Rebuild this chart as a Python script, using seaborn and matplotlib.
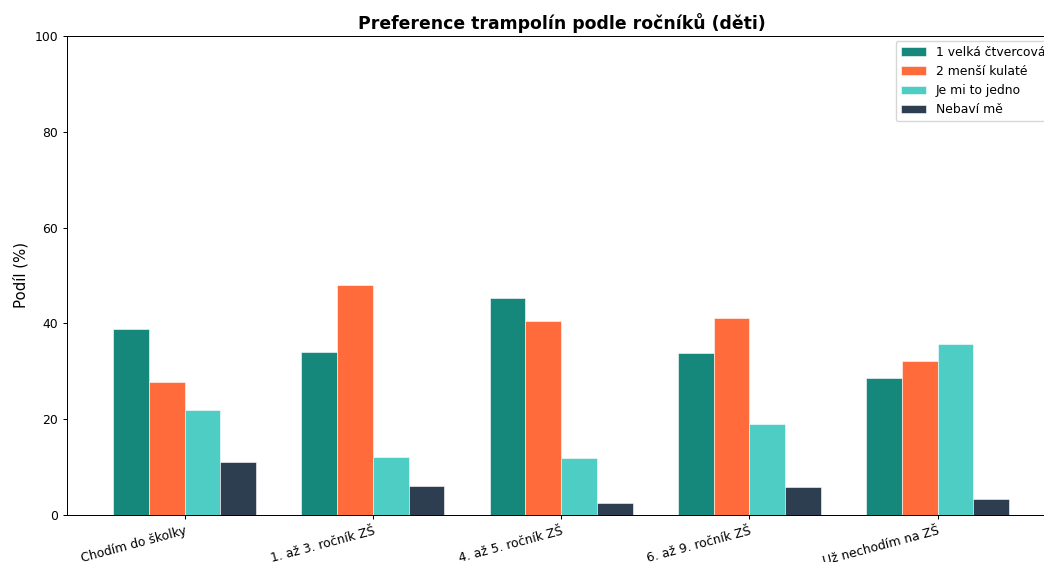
import matplotlib
matplotlib.use("Agg")
import matplotlib.pyplot as plt
import seaborn as sns
import pandas as pd

categories = ["Chodím do školky", "1. až 3. ročník ZŠ", "4. až 5. ročník ZŠ",
              "6. až 9. ročník ZŠ", "Už nechodím na ZŠ"]
series_names = ["1 velká čtvercová", "2 menší kulaté", "Je mi to jedno", "Nebaví mě"]
velka = [38.8, 34.0, 45.3, 33.8, 28.6]
mensi = [27.7, 48.0, 40.5, 41.1, 32.1]
jedno = [22.0, 12.1, 11.9, 19.0, 35.7]
nebavi = [11.1, 6.1, 2.5, 5.8, 3.4]
colors = ["#16877B", "#FF6B3B", "#4ECDC4", "#2C3E50"]

rows = []
for name, vals in zip(series_names, [velka, mensi, jedno, nebavi]):
    for c, v in zip(categories, vals):
        rows.append({"cat": c, "series": name, "val": v})
df = pd.DataFrame(rows)

plt.rcParams['font.family'] = ['DejaVu Sans']
plt.rcParams['text.color'] = 'black'
plt.rcParams['axes.labelcolor'] = 'black'
plt.rcParams['xtick.color'] = 'black'
plt.rcParams['ytick.color'] = 'black'

S = 0.89
W, H = 1044, 562
fig = plt.figure(figsize=(W / 100, H / 100), dpi=100)
left_px, right_px, top_px, bottom_px = 67, 1056, 36, 515
ax = fig.add_axes([left_px / W, 1 - bottom_px / H,
                   (right_px - left_px) / W, (bottom_px - top_px) / H])

sns.barplot(data=df, x="cat", y="val", hue="series", order=categories,
            hue_order=series_names, palette=colors, width=0.76, saturation=1,
            edgecolor="white", linewidth=0.4, ax=ax, errorbar=None)

px_per_unit = 188.25
x0 = -(184.7 - left_px) / px_per_unit
ax.set_xlim(x0, x0 + (right_px - left_px) / px_per_unit)
ax.set_ylim(0, 100)
ax.set_yticks([0, 20, 40, 60, 80, 100])
ax.set_xlabel("")
ax.set_ylabel("Podíl (%)", fontsize=12 * S)
ax.set_title("Preference trampolín podle ročníků (děti)", fontsize=14 * S,
             fontweight="bold", pad=6 * S)
ax.tick_params(axis="both", labelsize=10 * S, length=3.5 * S, width=0.8 * S)
plt.setp(ax.get_xticklabels(), rotation=15, ha="right", rotation_mode="anchor")
for s in ax.spines.values():
    s.set_visible(True)
    s.set_color("black")
    s.set_linewidth(0.8 * S)

handles, labels = ax.get_legend_handles_labels()
ax.legend(handles, labels, loc="upper left",
          bbox_to_anchor=(896 / W, 1 - 41 / H), bbox_transform=fig.transFigure,
          fontsize=10 * S, frameon=True, borderaxespad=0)

fig.savefig("out.png", dpi=100)
